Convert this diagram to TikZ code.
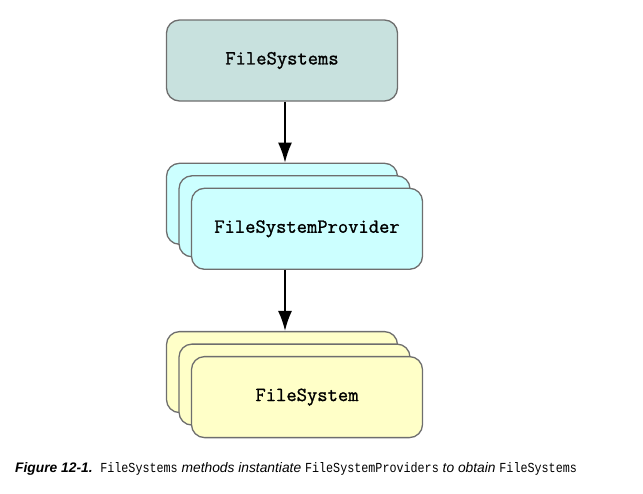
\documentclass[tikz,border=0pt]{standalone}
\usepackage{fontspec}
\usepackage{tikz}
\usetikzlibrary{positioning, arrows.meta}

\newfontfamily\boxfont[FakeBold=1.2]{Latin Modern Mono}
\newfontfamily\capfont{Liberation Sans}
\newfontfamily\capmono[FakeStretch=0.85]{Liberation Mono}

\definecolor{fsteal}{RGB}{200,225,222}
\definecolor{fscyan}{RGB}{204,255,255}
\definecolor{fsyellow}{RGB}{255,255,200}
\definecolor{fsborder}{RGB}{110,110,110}

\begin{document}
\begin{tikzpicture}[
            x=1pt, y=-1pt,
            box/.style={draw=fsborder, line width=1.3pt, rectangle, rounded corners=13pt, minimum width=231pt, minimum height=81pt, inner sep=0pt, font=\boxfont\fontsize{20}{22}\selectfont},
            classbox/.style={box, fill=fsteal},
            providerbox/.style={box, fill=fscyan},
            systembox/.style={box, fill=fsyellow},
            edge/.style={line width=1.8pt, -{Latex[length=20pt, width=14pt]}},
            caption/.style={anchor=base west, inner sep=0pt, font=\capfont\fontsize{13.8}{16}\selectfont\itshape}
        ]

        \useasboundingbox (0,0) rectangle (643,493);

        % Knoten
        \node[classbox] (fs) at (282,60.5) {FileSystems};

        \node[providerbox, below=61pt of fs] (fspA) {};
        \node[providerbox] (fspB) at ([shift={(12.5,12.5)}] fspA.center) {};
        \node[providerbox] (fsp) at ([shift={(12.5,12.5)}] fspB.center) {FileSystemProvider};

        \node[systembox] (fsysA) at ([yshift=-61pt] fspA.south |- fsp.south) [anchor=north] {};
        \node[systembox] (fsysB) at ([shift={(12.5,12.5)}] fsysA.center) {};
        \node[systembox] (fsys) at ([shift={(12.5,12.5)}] fsysB.center) {FileSystem};

        % Kanten
        \draw[edge] ([xshift=3pt] fs.south) -- ([xshift=3pt] fspA.north);
        \draw[edge] ([xshift=3pt] fspA.south |- fsp.south) -- ([xshift=3pt] fsysA.north);

        % Bildunterschrift
        \node[caption] (cap) at (15,472) {{\bfseries Figure 12-1.}\ \ {\capmono\upshape FileSystems} methods instantiate {\capmono\upshape FileSystemProviders} to obtain {\capmono\upshape FileSystems}};

    \end{tikzpicture}
\end{document}
